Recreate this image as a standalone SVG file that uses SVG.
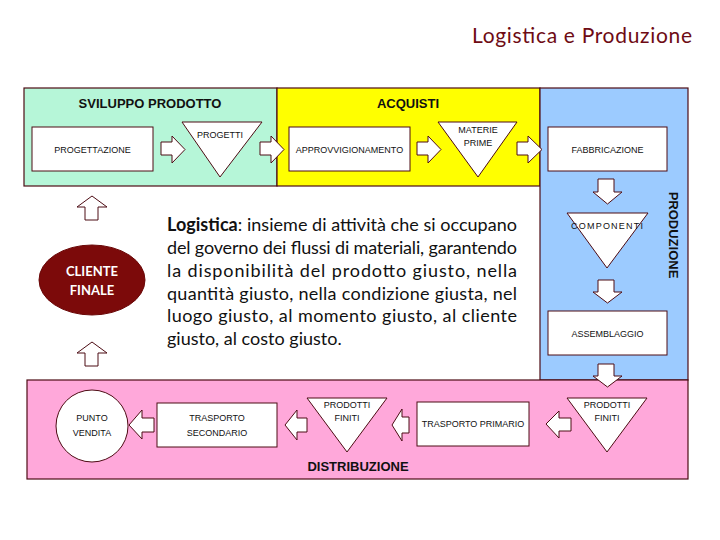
<svg xmlns="http://www.w3.org/2000/svg" width="720" height="540" viewBox="0 0 720 540">
<style>
.pan{stroke:#4d0c14;stroke-width:1.2}
.box{fill:#ffffff;stroke:#4d0c14;stroke-width:1}
.arr{fill:#ffffff;stroke:#4d0c14;stroke-width:1;stroke-linejoin:miter}
.lbl{font-family:"Liberation Sans",Arial,sans-serif;font-size:9px;fill:#111;text-anchor:middle}
.hd{font-family:"Liberation Sans",Arial,sans-serif;font-size:13px;font-weight:bold;fill:#111;text-anchor:middle}
.body{font-family:Lato,"Liberation Sans",sans-serif;font-size:18px;fill:#111}
</style>
<rect width="720" height="540" fill="#ffffff"/>
<text x="692" y="43" text-anchor="end" textLength="220" lengthAdjust="spacing" style="font-family:Lato,'Liberation Sans',sans-serif;font-size:21px;fill:#6e0b14">Logistica e Produzione</text>

<g id="panels">
<rect class="pan" x="24" y="88" width="253" height="98" fill="#b6f6d8"/>
<rect class="pan" x="277" y="88" width="263" height="98" fill="#ffff00"/>
<rect class="pan" x="540" y="88" width="148" height="292" fill="#9ccbff"/>
<rect class="pan" x="27" y="380" width="661" height="99" fill="#ffa8da"/>
<text class="hd" x="150" y="108">SVILUPPO PRODOTTO</text>
<text class="hd" x="408" y="108">ACQUISTI</text>
<text class="hd" x="358" y="471">DISTRIBUZIONE</text>
<text class="hd" transform="translate(669,235) rotate(90)">PRODUZIONE</text>
</g>

<g id="progettazione"><rect class="box" x="32" y="127" width="121" height="44"/><text class="lbl" x="92.5" y="153">PROGETTAZIONE</text></g>
<g id="progetti"><polygon class="box" points="182,122 262,122 220,177"/><text class="lbl" x="220" y="138">PROGETTI</text></g>
<g id="approvvigionamento"><rect class="box" x="289" y="127" width="121" height="44"/><text class="lbl" x="349.5" y="153">APPROVVIGIONAMENTO</text></g>
<g id="materie-prime"><polygon class="box" points="438,122 517,122 478,177"/><text class="lbl" x="478" y="133">MATERIE</text><text class="lbl" x="478" y="146">PRIME</text></g>
<g id="fabbricazione"><rect class="box" x="548" y="127" width="119" height="44"/><text class="lbl" x="607.5" y="153">FABBRICAZIONE</text></g>
<g id="componenti"><polygon class="box" points="567,213 648,213 607,268"/><text class="lbl" x="607" y="229" textLength="72" lengthAdjust="spacing">COMPONENTI</text></g>
<g id="assemblaggio"><rect class="box" x="548" y="311" width="119" height="44"/><text class="lbl" x="607.5" y="337">ASSEMBLAGGIO</text></g>
<g id="prodotti-finiti-1"><polygon class="box" points="567,398 647,398 607,452"/><text class="lbl" x="607" y="408">PRODOTTI</text><text class="lbl" x="607" y="421">FINITI</text></g>
<g id="trasporto-primario"><rect class="box" x="417" y="402" width="112" height="44"/><text class="lbl" x="473" y="427">TRASPORTO PRIMARIO</text></g>
<g id="prodotti-finiti-2"><polygon class="box" points="307,398 387,398 347,452"/><text class="lbl" x="347" y="408">PRODOTTI</text><text class="lbl" x="347" y="421">FINITI</text></g>
<g id="trasporto-secondario"><rect class="box" x="157" y="403" width="120" height="44"/><text class="lbl" x="217" y="421">TRASPORTO</text><text class="lbl" x="217" y="436">SECONDARIO</text></g>
<g id="punto-vendita"><circle class="box" cx="92" cy="426" r="36"/><text class="lbl" x="92" y="421">PUNTO</text><text class="lbl" x="92" y="436">VENDITA</text></g>
<g id="cliente-finale"><ellipse cx="92" cy="280" rx="53" ry="35" fill="#7c0a0a" stroke="#6a0808"/><text x="92" y="276" text-anchor="middle" style="font-family:Lato,'Liberation Sans',sans-serif;font-size:13px;font-weight:bold;fill:#ffffff">CLIENTE</text><text x="92" y="295" text-anchor="middle" style="font-family:Lato,'Liberation Sans',sans-serif;font-size:13px;font-weight:bold;fill:#ffffff">FINALE</text></g>

<g id="connectors">
<path class="arr" d="M161,142 H172 V136 L185,149.5 L172,163 V155 H161 Z"/>
<path class="arr" d="M260,142 H271 V136 L284,149.5 L271,163 V155 H260 Z"/>
<path class="arr" d="M417,142 H428 V136 L441,149.5 L428,163 V155 H417 Z"/>
<path class="arr" d="M517,142 H528 V136 L542,149.5 L528,163 V155 H517 Z"/>
<path class="arr" d="M598,179 H614 V192 H622 L607.5,204 L593,192 H598 Z"/>
<path class="arr" d="M598,280 H614 V292 H622 L607.5,303 L593,292 H598 Z"/>
<path class="arr" d="M598,364 H614 V376 H622 L607.5,387 L593,376 H598 Z"/>
<path class="arr" d="M546,424 L559,411 V418 H571 V431 H559 V438 Z"/>
<path class="arr" d="M392,425 L402,409 V417 H409 V433 H402 V441 Z"/>
<path class="arr" d="M285,425 L297,410 V418 H307 V432 H297 V440 Z"/>
<path class="arr" d="M129,425 L142,410 V418 H154 V432 H142 V439 Z"/>
<path class="arr" d="M92,196 L107,207 H98 V220 H85 V207 H77 Z"/>
<path class="arr" d="M92,342 L107,353 H98 V366 H85 V353 H77 Z"/>
</g>

<g id="definizione">
<text class="body" x="167" y="231" textLength="350" lengthAdjust="spacing"><tspan font-weight="bold">Logistica</tspan>: insieme di attività che si occupano</text>
<text class="body" x="167" y="254" textLength="350" lengthAdjust="spacing">del governo dei flussi di materiali, garantendo</text>
<text class="body" x="167" y="277" textLength="350" lengthAdjust="spacing">la disponibilità del prodotto giusto, nella</text>
<text class="body" x="167" y="300" textLength="350" lengthAdjust="spacing">quantità giusto, nella condizione giusta, nel</text>
<text class="body" x="167" y="322" textLength="350" lengthAdjust="spacing">luogo giusto, al momento giusto, al cliente</text>
<text class="body" x="167" y="345">giusto, al costo giusto.</text>
</g>
</svg>
